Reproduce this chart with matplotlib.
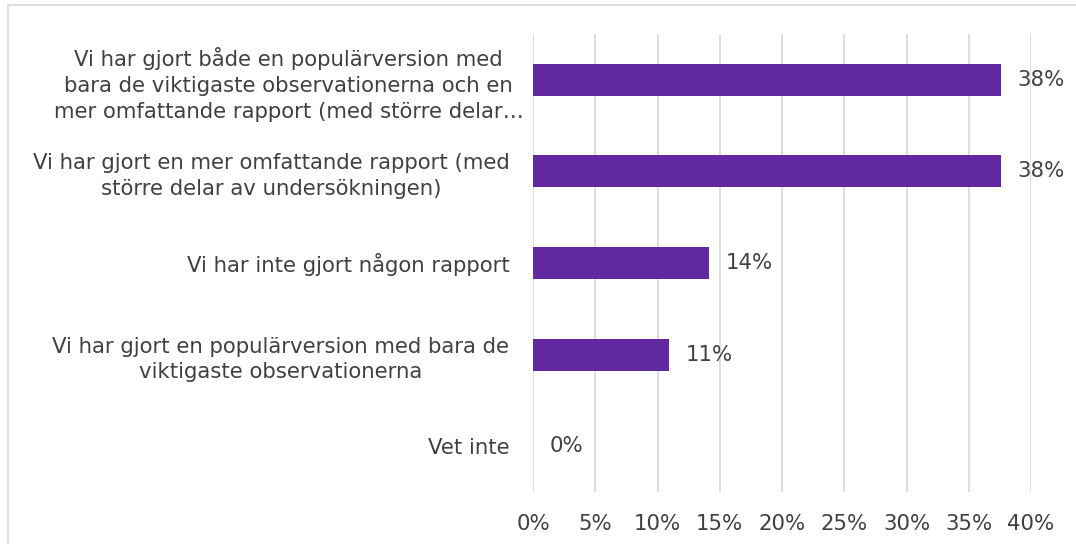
"""
plot.py — horizontal bar chart of survey answers about report formats.
"""

import matplotlib.pyplot as plt
import matplotlib.ticker as ticker
import matplotlib.transforms as mtransforms
from matplotlib.patches import Rectangle

categories = [
    "Vi har gjort både en populärversion med\nbara de viktigaste observationerna och en\nmer omfattande rapport (med större delar…",
    "Vi har gjort en mer omfattande rapport (med\nstörre delar av undersökningen)",
    "Vi har inte gjort någon rapport",
    "Vi har gjort en populärversion med bara de\nviktigaste observationerna",
    "Vet inte",
]
values = [37.6, 37.6, 14.1, 10.9, 0.0]
value_labels = ["38%", "38%", "14%", "11%", "0%"]
x_ticks = [0, 5, 10, 15, 20, 25, 30, 35, 40]

BAR_COLOR = "#6128A0"
TEXT_COLOR = "#404040"
GRID_COLOR = "#DDDAD8"
FS = 15.3

plt.rcParams["font.family"] = ["DejaVu Sans"]

fig = plt.figure(figsize=(10.76, 5.44), dpi=100)
ax = fig.add_axes([533 / 1076, 1 - 492 / 544, (1031 - 533) / 1076, (492 - 34) / 544])

# outer frame (only top and left visible in the crop)
fig.patches.append(Rectangle((8 / 1076, -0.05), 1.2, 1 - 5 / 544 + 0.05,
                             transform=fig.transFigure, fill=False,
                             edgecolor="#D9D9D9", linewidth=1.2))

ypos = list(range(len(categories)))
ax.barh(ypos, values, height=0.35, color=BAR_COLOR, zorder=3)

for y, v, lab in zip(ypos, values, value_labels):
    ax.annotate(lab, xy=(v, y), xytext=(12, 0), textcoords="offset points",
                ha="left", va="center", fontsize=FS, color=TEXT_COLOR)

ax.set_xlim(0, 40)
ax.set_ylim(len(categories) - 0.5, -0.5)
ax.set_xticks(x_ticks)
ax.xaxis.set_major_formatter(ticker.FuncFormatter(lambda x, _: f"{x:.0f}%"))
ax.set_yticks(ypos)
ax.set_yticklabels(categories, multialignment="center", linespacing=1.36)

ax.tick_params(axis="both", length=0, labelsize=FS, colors=TEXT_COLOR)
ax.tick_params(axis="y", pad=17)
ax.tick_params(axis="x", pad=16)

# the truncated first label runs a little past the others, as in the original
first = ax.get_yticklabels()[0]
first.set_transform(first.get_transform() +
                    mtransforms.ScaledTranslation(14 / 100, 0, fig.dpi_scale_trans))

ax.grid(axis="x", color=GRID_COLOR, linewidth=1.3, zorder=0)
for s in ax.spines.values():
    s.set_visible(False)

fig.savefig("out.png", dpi=100)
